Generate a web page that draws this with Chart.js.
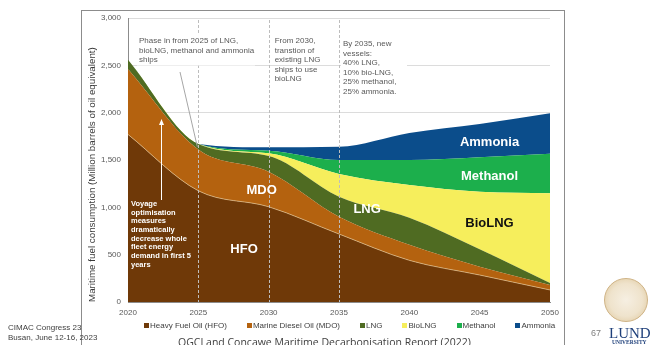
<!DOCTYPE html>
<html>
<head>
<meta charset="utf-8">
<script src="https://cdn.jsdelivr.net/npm/chart.js@4.4.0/dist/chart.umd.min.js"></script>
<style>
  body { margin: 0; background: #fff; font-family: "Liberation Sans", Arial, sans-serif; }
  #page { position: relative; width: 651px; height: 345px; overflow: hidden; }
  #frame { position: absolute; left: 81px; top: 10px; width: 484px; height: 340px; border: 1px solid #8c8c8c; box-sizing: border-box; }
  #fuel-chart { position: absolute; left: 0; top: 0; }
  #legend { position: absolute; left: 144px; top: 321px; font-size: 8px; color: #404040; white-space: nowrap; }
  #legend span { margin-right: 20px; }
  #legend i { display: inline-block; width: 5px; height: 5px; margin-right: 1px; vertical-align: 0; }
  .foot { position: absolute; font-size: 8px; color: #404040; }
  #source { position: absolute; left: 178px; top: 335px; font-size: 10.5px; color: #404040; font-family: "Open Sans", sans-serif; }
  #seal { position: absolute; left: 604px; top: 278px; width: 44px; height: 44px; border-radius: 50%;
          background: radial-gradient(circle, #f6efe2 0%, #efe3cc 55%, #e4d1ad 80%, #d9c092 100%); border: 1px solid #cfb385; box-sizing: border-box; }
  #lund { position: absolute; left: 609px; top: 325px; font-family: "Liberation Serif", serif; color: #1e3f7a; font-size: 15px; }
  #univ { position: absolute; left: 612px; top: 339px; font-family: "Liberation Serif", serif; color: #1e3f7a; font-size: 5.5px; font-weight: bold; }
</style>
</head>
<body>
<div id="page">
  <div id="frame"></div>
  <canvas id="fuel-chart" width="651" height="345"></canvas>
  <div id="legend"></div>
  <div class="foot" style="left:8px; top:323px;">CIMAC Congress 23</div>
  <div class="foot" style="left:8px; top:333px;">Busan, June 12-16, 2023</div>
  <div id="source">OGCI and Concawe Maritime Decarbonisation Report (2022)</div>
  <div class="foot" style="left:591px; top:328px; font-size:9px; color:#7f7f7f;">67</div>
  <div id="seal"></div>
  <div id="lund">LUND</div>
  <div id="univ">UNIVERSITY</div>
</div>
<script>
// fuel mix, million barrels of oil equivalent per year
const years = [2020, 2025, 2030, 2035, 2040, 2045, 2050];
const hfo = [1770, 1175, 1006, 718, 440, 285, 127];
const mdo = [690, 435, 370, 183, 165, 88, 53];
const lng = [100, 58, 166, 211, 285, 185, 22];
const bioLng = [0, 0, 28, 240, 345, 607, 948];
const methanol = [0, 1, 28, 148, 265, 365, 415];
const ammonia = [0, 1, 37, 140, 285, 350, 430];

const yTicks = [0, 500, 1000, 1500, 2000, 2500, 3000];
const xTicks = [2020, 2025, 2030, 2035, 2040, 2045, 2050];
const milestones = [2025, 2030, 2035];

const fuels = [
    { label: 'Heavy Fuel Oil (HFO)', values: hfo, color: '#6f3908', tag: 'HFO', tagAt: [2028.25, 560] },
    { label: 'Marine Diesel Oil (MDO)', values: mdo, color: '#b4620f', tag: 'MDO', tagAt: [2029.5, 1180] },
    { label: 'LNG', values: lng, color: '#4f6b22', tag: 'LNG', tagAt: [2037, 980] },
    { label: 'BioLNG', values: bioLng, color: '#f6ee5c', tag: 'BioLNG', tagAt: [2045.7, 830], dark: true },
    { label: 'Methanol', values: methanol, color: '#1caf4c', tag: 'Methanol', tagAt: [2045.7, 1330] },
    { label: 'Ammonia', values: ammonia, color: '#0b4d8b', tag: 'Ammonia', tagAt: [2045.7, 1685] }
];

const datasets = fuels.map((f, i) => ({
    label: f.label,
    data: f.values.map((v, j) => ({ x: years[j], y: v })),
    backgroundColor: f.color,
    borderColor: i === 0 ? 'rgba(240, 205, 150, 0.8)' : f.color,
    borderWidth: i === 0 ? 0.8 : 0,
    pointRadius: 0,
    fill: i === 0 ? 'origin' : '-1',
    cubicInterpolationMode: 'monotone'
}));

// dashed milestone lines, notes and series names on top of the areas
const notes = {
    id: 'notes',
    afterDatasetsDraw(chart) {
        const { ctx, chartArea, scales: { x, y } } = chart;
        ctx.save();

        ctx.strokeStyle = '#bdbdbd';
        ctx.lineWidth = 1;
        ctx.setLineDash([3, 2]);
        milestones.forEach(yr => {
            const px = Math.round(x.getPixelForValue(yr)) + 0.5;
            ctx.beginPath();
            ctx.moveTo(px, chartArea.top + 2);
            ctx.lineTo(px, chartArea.bottom);
            ctx.stroke();
        });
        ctx.setLineDash([]);

        // text boxes
        const box = (lines, left, top, w, font, color, bg) => {
            ctx.font = font;
            if (bg) {
                ctx.fillStyle = '#fff';
                ctx.fillRect(left - 2, top - 2, w, lines.length * 9.5 + 2);
            }
            ctx.fillStyle = color;
            ctx.textAlign = 'left';
            ctx.textBaseline = 'top';
            lines.forEach((t, i) => ctx.fillText(t, left, top + i * 9.5));
        };

        // pointer from the first note
        ctx.strokeStyle = '#a6a6a6';
        ctx.beginPath();
        ctx.moveTo(180, 72);
        ctx.lineTo(x.getPixelForValue(2025) - 1, y.getPixelForValue(1640));
        ctx.stroke();

        box(['Phase in from 2025 of LNG,', 'bioLNG, methanol and ammonia', 'ships'],
            x.getPixelForValue(2020) + 11, 37, 118, '8px "Liberation Sans"', '#595959', true);
        box(['From 2030,', 'transtion of', 'existing LNG', 'ships to use', 'bioLNG'],
            x.getPixelForValue(2030) + 6, 37, 58, '8px "Liberation Sans"', '#595959', false);
        box(['By 2035, new', 'vessels:', '40% LNG,', '10% bio-LNG,', '25% methanol,', '25% ammonia.'],
            x.getPixelForValue(2035) + 4, 40, 66, '8px "Liberation Sans"', '#595959', true);

        // voyage optimisation arrow
        const ax = Math.round(x.getPixelForValue(2022.35)) + 0.5;
        ctx.strokeStyle = '#fff';
        ctx.fillStyle = '#fff';
        ctx.beginPath();
        ctx.moveTo(ax, 200);
        ctx.lineTo(ax, 124);
        ctx.stroke();
        ctx.beginPath();
        ctx.moveTo(ax, 119);
        ctx.lineTo(ax - 2.5, 125);
        ctx.lineTo(ax + 2.5, 125);
        ctx.closePath();
        ctx.fill();

        ctx.font = 'bold 7.5px "Liberation Sans"';
        ['Voyage', 'optimisation', 'measures', 'dramatically', 'decrease whole',
         'fleet energy', 'demand in first 5', 'years'].forEach((t, i) => ctx.fillText(t, 131, 200 + i * 8.7));

        // series names inside the areas
        ctx.textAlign = 'center';
        ctx.textBaseline = 'middle';
        ctx.font = 'bold 13px "Liberation Sans"';
        fuels.forEach(f => {
            ctx.fillStyle = f.dark ? '#111' : '#fff';
            ctx.fillText(f.tag, x.getPixelForValue(f.tagAt[0]), y.getPixelForValue(f.tagAt[1]));
        });
        ctx.restore();
    }
};

new Chart(document.getElementById('fuel-chart'), {
    type: 'line',
    data: { datasets },
    options: {
        responsive: false,
        animation: false,
        layout: { padding: { left: 81, right: 101, top: 18, bottom: 25 } },
        plugins: { legend: { display: false }, tooltip: { enabled: false } },
        scales: {
            x: {
                type: 'linear',
                min: 2020,
                max: 2050,
                afterBuildTicks: s => { s.ticks = xTicks.map(v => ({ value: v })); },
                afterFit: s => { s.height = 18; },
                grid: { display: false, drawTicks: false },
                border: { display: true, color: '#8c8c8c' },
                ticks: { color: '#595959', font: { family: 'Liberation Sans', size: 8 }, padding: 6, callback: v => String(v) }
            },
            y: {
                stacked: true,
                min: 0,
                max: 3000,
                afterBuildTicks: s => { s.ticks = yTicks.map(v => ({ value: v })); },
                afterFit: s => { s.width = 47; },
                grid: { color: '#dcdcdc', drawTicks: false },
                border: { display: true, color: '#8c8c8c' },
                ticks: { color: '#595959', font: { family: 'Liberation Sans', size: 8 }, padding: 7,
                         callback: v => v.toLocaleString('en-US') },
                title: {
                    display: true,
                    align: 'start',
                    text: 'Maritime fuel consumption (Million barrels of oil equivalent)',
                    color: '#3a3a3a',
                    font: { family: 'Liberation Sans', size: 9.8 },
                    padding: { top: 5.5 }
                }
            }
        }
    },
    plugins: [notes]
});

// legend built from the same series list
document.getElementById('legend').innerHTML = fuels
    .map(f => `<span><i style="background:${f.color}"></i>${f.label}</span>`)
    .join('');
</script>
</body>
</html>
